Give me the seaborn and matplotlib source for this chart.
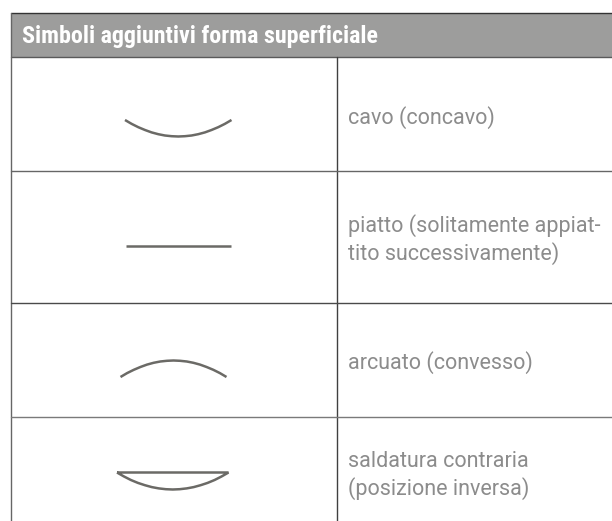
import matplotlib
matplotlib.use("Agg")
import matplotlib.pyplot as plt
import pandas as pd
import seaborn as sns

# curves, in pixels of the 612x521 image
cavo_x = [125, 131.7, 138.3, 145, 151.6, 158.3, 164.9, 171.6, 178.25, 184.9, 191.6, 198.2, 204.9, 211.5, 218.2, 224.8, 231.5]
cavo_y = [120, 123.9, 127.2, 130, 132.4, 134.2, 135.5, 136.2, 136.5, 136.2, 135.5, 134.2, 132.4, 130, 127.2, 123.9, 120]
piatto_x = [126, 231]
piatto_y = [246, 246]
arcuato_x = [120.5, 127.1, 133.8, 140.4, 147, 153.6, 160.3, 166.9, 173.5, 180.1, 186.8, 193.4, 200, 206.6, 213.3, 219.9, 226.5]
arcuato_y = [377, 373.1, 369.8, 367, 364.6, 362.8, 361.5, 360.8, 360.5, 360.8, 361.5, 362.8, 364.6, 367, 369.8, 373.1, 377]
contraria_x = [117, 124, 130.9, 137.9, 144.9, 151.8, 158.8, 165.8, 172.75, 179.7, 186.7, 193.7, 200.6, 207.6, 214.6, 221.5, 228.5, 117]
contraria_y = [472.5, 476.5, 480, 482.9, 485.2, 487.1, 488.4, 489.2, 489.5, 489.2, 488.4, 487.1, 485.2, 482.9, 480, 476.5, 472.5, 472.5]

title = "Simboli aggiuntivi forma superficiale"
labels = ["cavo (concavo)", "piatto (solitamente appiat-\ntito successivamente)",
          "arcuato (convesso)", "saldatura contraria\n(posizione inversa)"]
label_y = [118, 239.5, 362.5, 475.5]
row_lines = [171.3, 303.3, 417]
row_colors = ["#666666", "#4a4a4a", "#7a7a7a"]

sns.set_theme(style="white")
fig = plt.figure(figsize=(6.12, 5.21), dpi=100)
ax = fig.add_axes([0, 0, 1, 1])
ax.set_xlim(0, 612)
ax.set_ylim(521, 0)
ax.axis("off")

# table frame
ax.axhspan(12.7, 57.3, xmin=10.7 / 612, xmax=1, color="#9d9d9c", lw=0)
ax.plot([10.7, 612], [12.6, 12.6], color="#333333", lw=1)
ax.plot([10.7, 612], [57.4, 57.4], color="#5a5a5a", lw=1)
ax.plot([10.7, 10.7], [12.6, 521], color="#666666", lw=1)
ax.plot([336.7, 336.7], [57.4, 521], color="#404040", lw=1)
for y, c in zip(row_lines, row_colors):
    ax.plot([10.7, 612], [y, y], color=c, lw=1)

curves = [(cavo_x, cavo_y), (piatto_x, piatto_y), (arcuato_x, arcuato_y), (contraria_x, contraria_y)]
for xs, ys in curves:
    df = pd.DataFrame({"x": xs, "y": ys})
    sns.lineplot(data=df, x="x", y="y", sort=False, estimator=None, color="#6b6a66", linewidth=1.8,
                 solid_joinstyle="miter", solid_capstyle="butt", ax=ax)
ax.set_xlim(0, 612)
ax.set_ylim(521, 0)

ax.text(21.5, 36, title, color="white", fontsize=17.3, fontweight="bold",
        family=["Roboto Condensed", "Roboto", "DejaVu Sans"], va="center")
for lab, y in zip(labels, label_y):
    ax.text(347.5, y, lab, color="#8c8c8c", fontsize=15.5, family=["Roboto", "DejaVu Sans"], va="center", linespacing=1.3)

plt.savefig("out.png", dpi=100)
